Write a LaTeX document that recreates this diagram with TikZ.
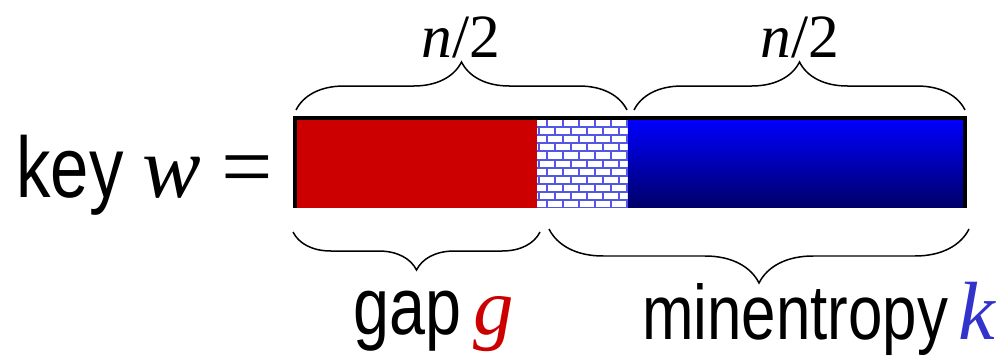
\documentclass[tikz,border=0pt]{standalone}
\usepackage{fontspec}
\setmainfont{Liberation Sans}[FakeStretch=0.8]
\newfontfamily\varfont{Liberation Serif}
\usetikzlibrary{decorations.pathreplacing}
\definecolor{keyred}{RGB}{204,0,0}
\definecolor{deepblue}{RGB}{0,0,255}
\definecolor{navyend}{RGB}{0,0,105}
\definecolor{mortar}{RGB}{85,85,230}
\definecolor{kblue}{RGB}{51,51,204}

\begin{document}
\begin{tikzpicture}[x=0.02cm,y=-0.02cm,
  seg/.style={minimum height=1.8cm,inner sep=0,outer sep=0,anchor=north west},
  brc/.style={decorate,decoration={brace,amplitude=#1},line width=0.03cm},
  txt/.style={inner sep=0,anchor=base west},
  half/.style={inner sep=0,anchor=base,font=\fontsize{35}{35}\selectfont\varfont},
]
\useasboundingbox (0,0) rectangle (999,355);
% ---------- the key bar ----------
\node[seg,fill=keyred,minimum width=4.84cm]                        (gapseg) at (295,118) {};
\node[seg,fill=white,minimum width=1.82cm]                         (mixseg) at (gapseg.north east) {};
\node[seg,top color=deepblue,bottom color=navyend,minimum width=6.74cm] (entseg) at (mixseg.north east) {};
% bricks in the overlap
\begin{scope}
  \clip (mixseg.north west) rectangle (mixseg.south east);
  \foreach \r in {0,...,11} {
    \pgfmathsetmacro\off{mod(\r,2)==0 ? 10 : 2}
    \draw[mortar,line width=0.04cm] (537,{119+8.1*\r}) -- (628,{119+8.1*\r});
    \foreach \c in {-1,...,6}
      \draw[mortar,line width=0.04cm] ({537+\off+16*\c},{119+8.1*\r}) -- ++(0,8.1);
  }
\end{scope}
% frame: left, top, right
\draw[line width=0.08cm] (gapseg.south west) |- (entseg.north east) -- (entseg.south east);
% ---------- braces ----------
\coordinate (topa) at (296,110);
\coordinate (topb) at (627,110);
\coordinate (topc) at (634,110);
\coordinate (topd) at (965,110);
\coordinate (bota) at (540,232);
\coordinate (botb) at (293,232);
\coordinate (botc) at (969,229);
\coordinate (botd) at (549,229);
\draw[brc=0.96cm] (topa) -- (topb);
\draw[brc=0.96cm] (topc) -- (topd);
\draw[brc=0.76cm] (bota) -- (botb);
\draw[brc=1.08cm] (botc) -- (botd);
% ---------- labels ----------
\node[half] (lefthalf)  at (461,57) {\itshape n\upshape/2};
\node[half] (righthalf) at (800,57) {\itshape n\upshape/2};
\node[txt,font=\fontsize{49}{49}\selectfont] (keylbl) at (16,197)
  {key {\fontsize{50}{50}\selectfont\varfont\itshape w}\hspace{0.4cm}{\fontsize{52}{52}\selectfont\varfont =}};
\node[txt,font=\fontsize{46}{46}\selectfont] (gaplbl) at (353,334)
  {gap\hspace{0.25cm}{\fontsize{46}{46}\selectfont\varfont\itshape\color{keyred}g}};
\node[txt,font=\fontsize{44}{44}\selectfont] (entlbl) at (642,339)
  {minentropy\hspace{0.2cm}{\fontsize{47}{47}\selectfont\varfont\itshape\color{kblue}k}};
\end{tikzpicture}
\end{document}
